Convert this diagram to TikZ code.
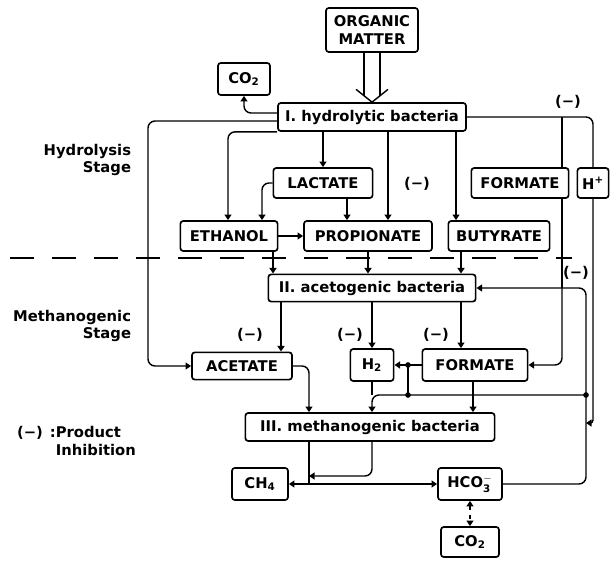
\documentclass[tikz,border=0pt]{standalone}
\usepackage{fontspec}
\setmainfont{DejaVu Sans}
\usetikzlibrary{arrows.meta}

\begin{document}
\begin{tikzpicture}[x=0.025cm, y=-0.025cm,
    every node/.style={font=\bfseries\fontsize{10.5}{12.5}\selectfont},
    box/.style={draw, line width=1.2pt, rounded corners=2pt, inner sep=0pt, align=center},
    line/.style={line width=1pt, rounded corners=5pt},
    flow/.style={line, -{Triangle[width=5pt,length=4pt]}},
    twoway/.style={line, {Triangle[width=5pt,length=4pt]}-{Triangle[width=5pt,length=4pt]}},
    feed/.style={line width=1pt},
    dot/.style={circle, fill, inner sep=0pt, minimum size=4pt}]
  \useasboundingbox (0,0) rectangle (613,564);

  % stage labels and legend
  \node[align=right, anchor=east] (hydst) at (136,160) {Hydrolysis\\Stage};
  \node[align=right, anchor=east] (metst) at (136,326) {Methanogenic\\Stage};
  \node (legm) at (30,433) {(−)};
  \node[align=left, anchor=west] (legt) at (45,441) {:Product\\\phantom{:}Inhibition};

  \draw[line width=1.2pt, dash pattern=on 0.6cm off 0.45cm] (10,258) -- (572,258);

  % boxes
  \node[box, minimum width=2.3cm, minimum height=1.1cm] (org) at (372,30) {ORGANIC\\MATTER};
  \node[box, minimum width=1.3cm, minimum height=0.8cm] (co2a) at (244,79) {CO\textsubscript{2}};
  \node[box, minimum width=4.7cm, minimum height=0.7cm] (hyd) at (372,117) {I. hydrolytic bacteria};
  \node[box, minimum width=2.48cm, minimum height=0.75cm] (lac) at (323,183) {LACTATE};
  \node[box, minimum width=2.43cm, minimum height=0.75cm] (form1) at (520,183) {FORMATE};
  \node[box, minimum width=0.78cm, minimum height=0.75cm] (hp) at (593,183) {H\textsuperscript{+}};
  \node[box, minimum width=2.43cm, minimum height=0.75cm] (eth) at (229,236) {ETHANOL};
  \node[box, minimum width=3.2cm, minimum height=0.75cm] (prop) at (368,236) {PROPIONATE};
  \node[box, minimum width=2.53cm, minimum height=0.75cm] (but) at (499,236) {BUTYRATE};
  \node[box, minimum width=5.18cm, minimum height=0.68cm] (acg) at (372,288) {II. acetogenic bacteria};
  \node[box, minimum width=2.5cm, minimum height=0.68cm] (acet) at (242,366) {ACETATE};
  \node[box, minimum width=1.08cm, minimum height=0.8cm] (htwo) at (372,365) {H\textsubscript{2}};
  \node[box, minimum width=2.63cm, minimum height=0.8cm] (form2) at (475,365) {FORMATE};
  \node[box, minimum width=6.23cm, minimum height=0.7cm] (meth) at (370,427) {III. methanogenic bacteria};
  \node[box, minimum width=1.4cm, minimum height=0.8cm] (ch4) at (260,484) {CH\textsubscript{4}};
  \node[box, minimum width=1.6cm, minimum height=0.8cm] (hco) at (470,484) {HCO$_{\mathbf{3}}^{-}$};
  \node[box, minimum width=1.45cm, minimum height=0.75cm] (co2b) at (470,542) {CO\textsubscript{2}};

  % product inhibition marks
  \node (mA) at (568,102) {(−)};
  \node (mB) at (417,184) {(−)};
  \node (mC) at (576,273) {(−)};
  \node (mD) at (250,335) {(−)};
  \node (mE) at (350,335) {(−)};
  \node (mF) at (436,335) {(−)};

  % lanes
  \coordinate (busL) at (148,0);
  \coordinate (toEth) at (228,0);
  \coordinate (lacEth) at (262,0);
  \coordinate (ethAcg) at (273,0);
  \coordinate (toAcet) at (281,0);
  \coordinate (acetMeth) at (309,0);
  \coordinate (lacProp) at (347,0);
  \coordinate (toProp) at (388,0);
  \coordinate (hLink) at (408,0);
  \coordinate (toBut) at (456,0);
  \coordinate (laneK) at (461,0);
  \coordinate (formMeth) at (473,0);
  \coordinate (toForm) at (562,0);
  \coordinate (busR) at (586,0);
  \coordinate (ymix) at (0,395);
  \coordinate (yh) at (0,423);
  \coordinate (yloop) at (0,476);
  \coordinate (hydT) at ([yshift=0.1cm]hyd.west);
  \coordinate (hydB) at ([yshift=-0.1cm]hyd.west);

  % hydrolysis stage
  \draw[feed] ([xshift=-0.2cm]org.south) -- ([xshift=-0.2cm, yshift=0.16cm]hyd.north);
  \draw[feed] ([xshift=0.2cm]org.south) -- ([xshift=0.2cm, yshift=0.16cm]hyd.north);
  \draw[feed] ([xshift=-0.4cm, yshift=0.32cm]hyd.north) -- (hyd.north) -- ([xshift=0.4cm, yshift=0.32cm]hyd.north);
  \draw[flow] (hydT) -| (co2a);
  \draw[flow] (hydB) -- (hydB -| busL) |- (acet);
  \draw[flow] (hyd.south west) -| (eth.north -| toEth);
  \draw[flow] (hyd.south -| lac) -- (lac);
  \draw[flow] (hyd.south -| toProp) -- (prop.north -| toProp);
  \draw[flow] (hyd.south -| toBut) -- (but.north -| toBut);
  \draw[line] (hyd.east) -| (hp);
  \draw[line] (hyd.east -| toForm) -- (form1.north -| toForm);
  \draw[flow] (lac.west) -| (eth.north -| lacEth);
  \draw[flow] (lac.south -| lacProp) -- (prop.north -| lacProp);
  \draw[flow] (eth) -- (prop);

  % acetogenic step
  \draw[flow] (eth.south -| ethAcg) -- (acg.north -| ethAcg);
  \draw[flow] (prop.south) -- (prop.south |- acg.north);
  \draw[flow] (but.south -| laneK) -- (acg.north -| laneK);
  \draw[flow] (acg.south -| toAcet) -- (acet.north -| toAcet);
  \draw[flow] (acg.south -| htwo) -- (htwo);
  \draw[flow] (acg.south -| laneK) -- (form2.north -| laneK);
  \draw[line] (form1.south -| toForm) -- (toForm |- acg.east);
  \draw[flow] (hco) -| (busR |- acg.east) -- (acg.east);
  \draw[flow] (toForm |- acg.east) |- (form2.east);
  \draw[flow, rounded corners=2pt] (hp) |- (busR |- yh);
  \draw[flow] (form2) -- (htwo);
  \draw[line] (hLink |- htwo.east) -- (hLink |- ymix);

  % methanogenic step
  \draw[flow] (acet) -| (meth.north -| acetMeth);
  \draw[line] (htwo) -- (htwo |- ymix);
  \draw[flow] (busR |- ymix) -| (meth.north -| htwo);
  \draw[flow] (form2.south -| formMeth) -- (meth.north -| formMeth);
  \node[dot] (dA) at (busR |- ymix) {};
  \node[dot] (dB) at (hLink |- ymix) {};
  \node[dot] (dC) at (hLink |- htwo.east) {};
  \draw[line] (meth.south -| acetMeth) -- (acetMeth |- ch4.east);
  \draw[flow] (meth.south -| htwo) |- (acetMeth |- yloop);
  \draw[flow] (acetMeth |- ch4.east) -- (ch4);
  \draw[flow] (acetMeth |- ch4.east) -- (hco);
  \draw[twoway, dashed] (hco) -- (co2b);
\end{tikzpicture}
\end{document}
